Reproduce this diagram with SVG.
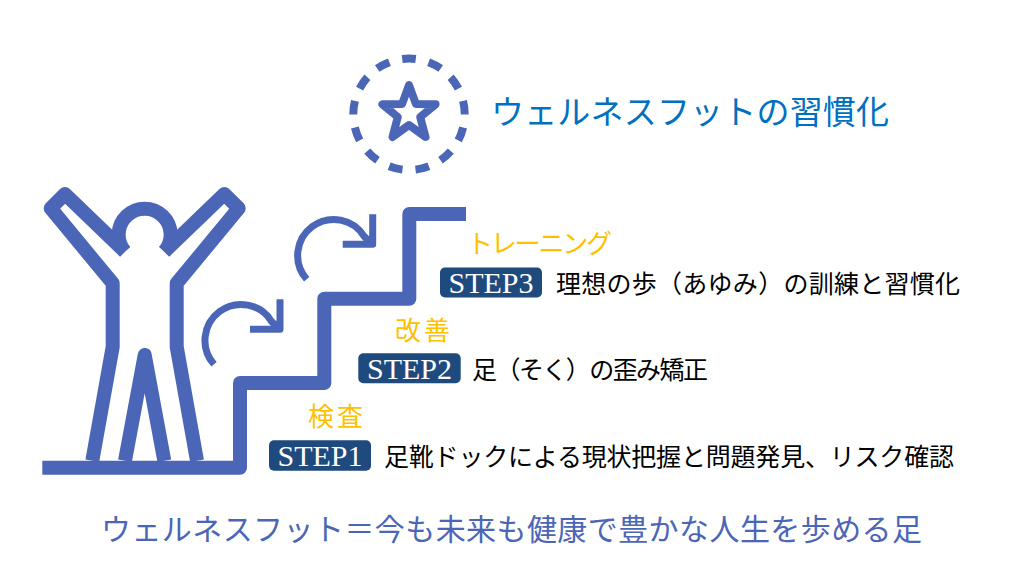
<svg xmlns="http://www.w3.org/2000/svg" width="1024" height="576" viewBox="0 0 1024 576">
  <style>
    text { font-family: "Liberation Serif", "Noto Sans CJK JP", serif; }
    .icon { fill: none; stroke: #4c66b7; stroke-width: 14; stroke-linejoin: round; }
    .arrow { fill: none; stroke: #4c66b7; stroke-width: 7; stroke-linejoin: round; }
    .badge { fill: #1f4a7e; }
    .step { fill: #fff; font-size: 30px; text-anchor: middle; }
    .desc { fill: #000; font-size: 25px; }
    .kind { fill: #ffc000; font-size: 26px; }
  </style>
  <rect width="1024" height="576" fill="#fff"/>
  <g id="star">
    <circle cx="409" cy="114.3" r="55.7" fill="none" stroke="#4c66b7" stroke-width="8" pathLength="13" stroke-dasharray="0.51 0.49" stroke-dashoffset="0.255" transform="rotate(-90 409 114.3)"/>
    <path fill="none" stroke="#4c66b7" stroke-width="8" stroke-linejoin="round" d="M409 85L415.9 104L435.6 104.3L420.2 117L425.5 137L409 125L392.5 137L397.8 117L382.4 104.3L402.1 104Z"/>
  </g>
  <g id="title">
    <text x="491" y="124" font-size="33" fill="#0070c0" textLength="398" lengthAdjust="spacing">ウェルネスフットの習慣化</text>
  </g>
  <g id="person">
    <path class="icon" d="M125 251.7L65 194L50.7 208.3L112.7 283.3V346.7L92.3 460.7"/>
    <path class="icon" d="M164.3 251.7L224.3 194L238.7 208.3L176.7 283.3V346.7L197 460.7"/>
    <path class="icon" d="M125 251.7A26 26 0 1 1 164.3 251.7"/>
    <path class="icon" d="M125 460.7L144.7 355L164.3 460.7"/>
  </g>
  <g id="stairs">
    <path class="icon" d="M42.3 467.7H240V383H324.3V298.7H409.3V214H466"/>
  </g>
  <g id="connectors">
    <path class="arrow" d="M214 364.3A36 36 0 1 1 271.7 321.7L280 329.3M250 329.3H280V299.3"/>
    <path class="arrow" d="M306.7 279.3A36 36 0 1 1 364.4 236.7L372.7 244.3M342.7 244.3H372.7V214.3"/>
  </g>
  <g id="step3">
    <text class="kind" x="467" y="253" textLength="145" lengthAdjust="spacing">トレーニング</text>
    <rect class="badge" x="440" y="267.5" width="102" height="30" rx="5"/>
    <text class="step" x="491" y="293" >STEP3</text>
    <text class="desc" x="556" y="293" textLength="404" lengthAdjust="spacing">理想の歩（あゆみ）の訓練と習慣化</text>
  </g>
  <g id="step2">
    <text class="kind" x="395" y="340" textLength="55" lengthAdjust="spacing">改善</text>
    <rect class="badge" x="358.3" y="353.3" width="102.4" height="30" rx="5"/>
    <text class="step" x="409.5" y="379">STEP2</text>
    <text class="desc" x="472" y="379" textLength="236" lengthAdjust="spacing">足（そく）の歪み矯正</text>
  </g>
  <g id="step1">
    <text class="kind" x="308" y="426" textLength="55" lengthAdjust="spacing">検査</text>
    <rect class="badge" x="269" y="440.3" width="102" height="30.4" rx="5"/>
    <text class="step" x="320" y="465.5">STEP1</text>
    <text class="desc" x="384" y="465.5" textLength="570" lengthAdjust="spacing">足靴ドックによる現状把握と問題発見、リスク確認</text>
  </g>
  <g id="footer">
    <text x="101" y="540" font-size="30" fill="#4c66b7" textLength="821" lengthAdjust="spacing">ウェルネスフット＝今も未来も健康で豊かな人生を歩める足</text>
  </g>
</svg>
